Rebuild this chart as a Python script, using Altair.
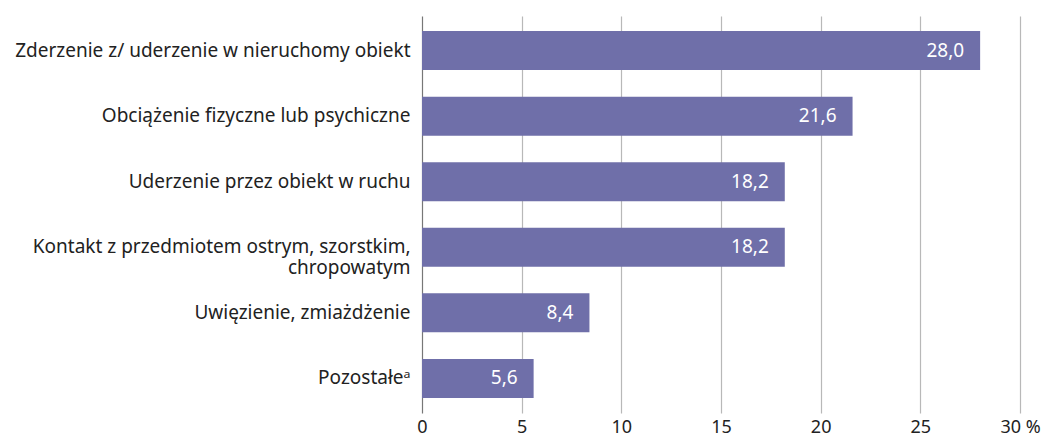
import altair as alt
import pandas as pd

categories = [
    "Zderzenie z/ uderzenie w nieruchomy obiekt",
    "Obciążenie fizyczne lub psychiczne",
    "Uderzenie przez obiekt w ruchu",
    "Kontakt z przedmiotem ostrym, szorstkim,\nchropowatym",
    "Uwięzienie, zmiażdżenie",
    "Pozostałeᵃ",
]
values = [28.0, 21.6, 18.2, 18.2, 8.4, 5.6]
x_ticks = [0, 5, 10, 15, 20, 25, 30]

df = pd.DataFrame({"cat": categories, "val": values})

FONT = "Noto Sans"
BAR = "#6f6fa9"

y_enc = alt.Y(
    "cat:N",
    sort=categories,
    title=None,
    scale=alt.Scale(paddingInner=0.405, paddingOuter=0.23),
    axis=alt.Axis(
        domain=False,
        ticks=False,
        labelPadding=12,
        labelFontSize=19,
        labelFont=FONT,
        labelColor="#222222",
        labelLimit=500,
        labelExpr="split(datum.label, '\\n')",
        labelLineHeight=21,
    ),
)

x_enc = alt.X(
    "val:Q",
    title=None,
    scale=alt.Scale(domain=[0, 30], nice=False),
    axis=alt.Axis(
        values=x_ticks,
        domain=False,
        ticks=False,
        grid=True,
        gridColor={"condition": {"test": "datum.value === 0", "value": "#777777"}, "value": "#b8b8b8"},
        gridWidth=1.2,
        labelFlush=False,
        labelPadding=5,
        labelFontSize=18,
        labelFont=FONT,
        labelColor="#222222",
        labelExpr="datum.value === 30 ? '30 %' : datum.label",
    ),
)

bars = alt.Chart(df).mark_bar(color=BAR).encode(y=y_enc, x=x_enc)

labels = (
    alt.Chart(df)
    .transform_calculate(lab="replace(format(datum.val, '.1f'), '.', ',')")
    .mark_text(align="right", baseline="middle", dx=-16, color="white", fontSize=19, font=FONT)
    .encode(y=alt.Y("cat:N", sort=categories), x=alt.X("val:Q"), text="lab:N")
)

chart = (
    alt.layer(bars, labels)
    .properties(
        width=598,
        height=397,
        autosize=alt.AutoSizeParams(type="none"),
        padding={"left": 414, "top": 8, "right": 27, "bottom": 24},
    )
    .configure_view(stroke=None)
)

chart.save("out.html", embed_options={"renderer": "svg", "actions": False})
